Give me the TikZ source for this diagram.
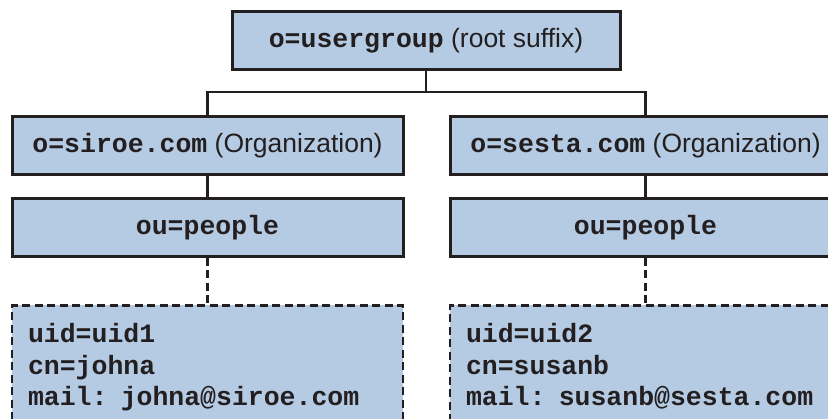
\documentclass[tikz,border=0pt]{standalone}
\usepackage{fontspec}
\setmainfont{Liberation Sans}
\setmonofont{Liberation Mono}
\definecolor{dnblue}{RGB}{181,203,227}
\definecolor{dnink}{RGB}{35,31,32}
\newcommand{\dn}[1]{{\ttfamily\bfseries #1}}
\tikzset{
  dnbox/.style={draw=dnink, line width=3pt, fill=dnblue, text=dnink,
    minimum width=391pt, minimum height=58pt, inner sep=0pt},
  entrybox/.style={dnbox, line width=2.8pt, dash pattern=on 8pt off 4.5pt, anchor=north,
    align=left, text width=359pt, inner xsep=16pt, inner ysep=18pt,
    font=\fontsize{26.5pt}{31.5pt}\ttfamily\bfseries},
  link/.style={draw=dnink, line width=2.5pt}
}
\begin{document}
\begin{tikzpicture}[x=1pt,y=-1pt,font=\fontsize{26.5pt}{31.5pt}\selectfont]
\useasboundingbox (0,0) rectangle (828,419);
\clip (0,0) rectangle (828,419);
% tree of entries
\node [dnbox, minimum width=388pt] (root) at (426,41) {\dn{o=usergroup} (root suffix)};
\node [dnbox] (orgL) at (207.5,146) {\dn{o=siroe.com} (Organization)};
\node [dnbox] (orgR) at (645.5,146) {\dn{o=sesta.com} (Organization)};
\node [dnbox] (peopleL) at (207.5,227.5) {\dn{ou=people}};
\node [dnbox] (peopleR) at (645.5,227.5) {\dn{ou=people}};
\node [entrybox] (userL) at (207.5,304) {uid=uid1\\cn=johna\\mail: johna@siroe.com};
\node [entrybox] (userR) at (645.5,304) {uid=uid2\\cn=susanb\\mail: susanb@sesta.com};
\coordinate (busL) at (207.5,92);
\coordinate (busR) at (645.5,92);
\draw [link] (root.south) -- (root.south |- busL);
\draw [link] (orgL.north) -- (busL) -- (busR) -- (orgR.north);
\draw [link] (orgL) -- (peopleL);
\draw [link] (orgR) -- (peopleR);
\draw [link, dash pattern=on 8pt off 4.5pt] (peopleL) -- (userL);
\draw [link, dash pattern=on 8pt off 4.5pt] (peopleR) -- (userR);
\end{tikzpicture}
\end{document}
